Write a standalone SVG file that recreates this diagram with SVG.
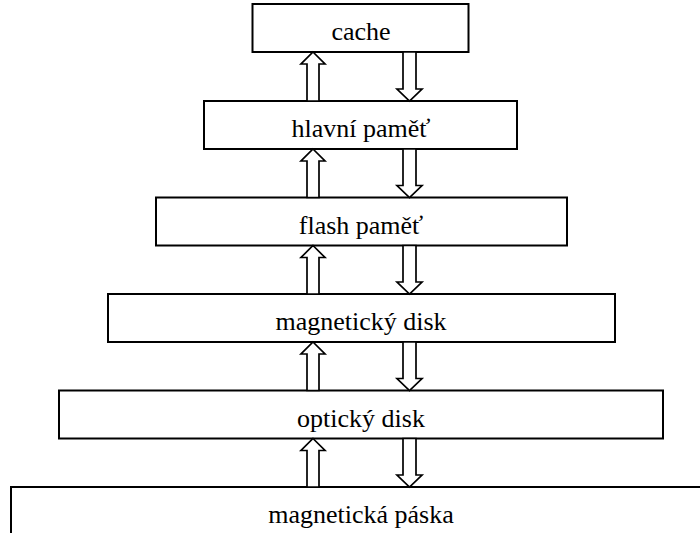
<svg xmlns="http://www.w3.org/2000/svg" width="700" height="533" viewBox="0 0 700 533">
<style>
.box{fill:#fff;stroke:#000;stroke-width:2}
.lbl{font-size:26px;fill:#000;text-anchor:middle}
.arr{fill:#fff;stroke:#000;stroke-width:1.7;stroke-linejoin:miter}
</style>
<rect width="700" height="533" fill="#fff"/>
<g font-family="Liberation Serif, Tinos, DejaVu Serif, serif">
<g id="cache"><rect class="box" x="252.5" y="4" width="216" height="48"/><text class="lbl" x="361" y="40">cache</text></g>
<g id="hlavni"><rect class="box" x="204" y="101" width="313" height="48"/><text class="lbl" x="361" y="137">hlavní paměť</text></g>
<g id="flash"><rect class="box" x="156" y="197.5" width="411" height="48"/><text class="lbl" x="361" y="233.5">flash paměť</text></g>
<g id="magdisk"><rect class="box" x="108" y="294" width="507" height="48"/><text class="lbl" x="361" y="330">magnetický disk</text></g>
<g id="optdisk"><rect class="box" x="59" y="390.5" width="604" height="48"/><text class="lbl" x="361" y="426.5">optický disk</text></g>
<g id="paska"><rect class="box" x="11" y="487" width="720" height="80"/><text class="lbl" x="361" y="523">magnetická páska</text></g>
</g>
<g id="connectors">
<path class="arr" d="M313,52 L325,64 L319,64 L319,101 L307,101 L307,64 L301,64 Z"/>
<path class="arr" d="M403,52 L416,52 L416,89 L422,89 L409.5,101 L397,89 L403,89 Z"/>
<path class="arr" d="M313,149 L325,161 L319,161 L319,197.5 L307,197.5 L307,161 L301,161 Z"/>
<path class="arr" d="M403,149 L416,149 L416,185.5 L422,185.5 L409.5,197.5 L397,185.5 L403,185.5 Z"/>
<path class="arr" d="M313,245.5 L325,257.5 L319,257.5 L319,294 L307,294 L307,257.5 L301,257.5 Z"/>
<path class="arr" d="M403,245.5 L416,245.5 L416,282 L422,282 L409.5,294 L397,282 L403,282 Z"/>
<path class="arr" d="M313,342 L325,354 L319,354 L319,390.5 L307,390.5 L307,354 L301,354 Z"/>
<path class="arr" d="M403,342 L416,342 L416,378.5 L422,378.5 L409.5,390.5 L397,378.5 L403,378.5 Z"/>
<path class="arr" d="M313,438.5 L325,450.5 L319,450.5 L319,487 L307,487 L307,450.5 L301,450.5 Z"/>
<path class="arr" d="M403,438.5 L416,438.5 L416,475 L422,475 L409.5,487 L397,475 L403,475 Z"/>
</g>
</svg>
